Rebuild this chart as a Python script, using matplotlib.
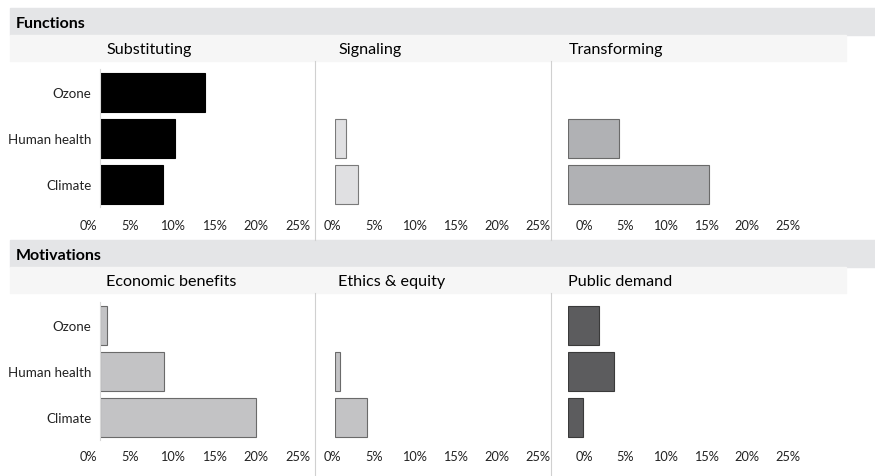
import matplotlib.pyplot as plt
import matplotlib.transforms as mtransforms
from matplotlib.patches import Rectangle
from matplotlib.lines import Line2D

plt.rcParams['font.family'] = ['Lato', 'DejaVu Sans']

W, H = 875, 477
categories = ["Ozone", "Human health", "Climate"]
tick_vals = [0, 5, 10, 15, 20, 25]
tick_labels = ["0%", "5%", "10%", "15%", "20%", "25%"]

# values in percent (Ozone, Human health, Climate)
substituting = [12.5, 9.0, 7.6]
signaling = [0, 1.4, 2.9]
transforming = [0, 6.3, 17.3]
economic = [0.95, 7.7, 18.6]
ethics = [0, 0.6, 3.9]
public_demand = [3.8, 5.7, 1.8]

sections = ["Functions", "Motivations"]
titles = [["Substituting", "Signaling", "Transforming"],
          ["Economic benefits", "Ethics & equity", "Public demand"]]
values = [[substituting, signaling, transforming],
          [economic, ethics, public_demand]]
fills = [["#000000", "#e0e0e2", "#b0b1b4"],
         ["#c3c3c5", "#c3c3c5", "#5c5c5e"]]
edges = [["#000000", "#7a7a7a", "#6a6a6a"],
         ["#6a6a6a", "#6a6a6a", "#3a3a3a"]]

# layout in pixels
panel_left = [99.5, 334.7, 568.0]
px_per_pct = [8.4, 8.2, 8.14]
label_shift = [-11.5, -2.0, 16.0]
title_x = [106, 338.5, 568.5]
row_top = [70.3, 303.2]
header_y = [9, 241]
tick_pad = [8.5, 7.0]
sep_x = [314.5, 551]

fig = plt.figure(figsize=(W / 100, H / 100), dpi=100)


def fx(x):
    return x / W


def fy(y):
    return 1 - y / H


for r in range(2):
    hy = header_y[r]
    # section header band and subtitle band
    fig.patches.append(Rectangle((fx(10), fy(hy + 27)), fx(865), 27 / H,
                                 transform=fig.transFigure, color="#e4e5e7", zorder=0))
    fig.patches.append(Rectangle((fx(10), fy(hy + 53)), fx(836), 26 / H,
                                 transform=fig.transFigure, color="#f6f6f6", zorder=0))
    fig.text(fx(16), fy(hy + 15), sections[r], fontsize=11.5, fontweight="bold",
             ha="left", va="center")
    bottom_end = 241 if r == 0 else 477
    for sx in sep_x:
        fig.add_artist(Line2D([fx(sx), fx(sx)], [fy(hy + 53), fy(bottom_end)],
                              transform=fig.transFigure, color="#d0d0d0", lw=0.8))

    for c in range(3):
        fig.text(fx(title_x[c]), fy(hy + 41), titles[r][c], fontsize=11.6,
                 ha="left", va="center")
        width_px = 25 * px_per_pct[c]
        ax = fig.add_axes([fx(panel_left[c]), fy(row_top[r] + 138), width_px / W, 138 / H])
        pos = [i for i, v in enumerate(values[r][c]) if v > 0]
        ax.barh(pos, [values[r][c][i] for i in pos], height=0.84, color=fills[r][c],
                edgecolor=edges[r][c], linewidth=0.8)
        ax.set_xlim(0, 25)
        ax.set_ylim(2.5, -0.5)
        ax.set_xticks(tick_vals)
        ax.set_xticklabels(tick_labels, fontsize=9.2, color="#222222")
        ax.tick_params(axis="x", length=0, pad=tick_pad[r])
        shift = mtransforms.ScaledTranslation(label_shift[c] / 100, 0, fig.dpi_scale_trans)
        for lab in ax.get_xticklabels():
            lab.set_transform(lab.get_transform() + shift)
        for sp in ["top", "right", "bottom", "left"]:
            ax.spines[sp].set_visible(False)
        if c == 0:
            ax.spines["left"].set_visible(True)
            ax.spines["left"].set_color("#d9d9d9")
            ax.spines["left"].set_linewidth(0.8)
            ax.set_yticks(range(3))
            ax.set_yticklabels(categories, fontsize=9.6, color="#222222")
            ax.tick_params(axis="y", length=0, pad=6)
        else:
            ax.set_yticks([])
        ax.patch.set_alpha(0)

fig.savefig("out.png", dpi=100)
